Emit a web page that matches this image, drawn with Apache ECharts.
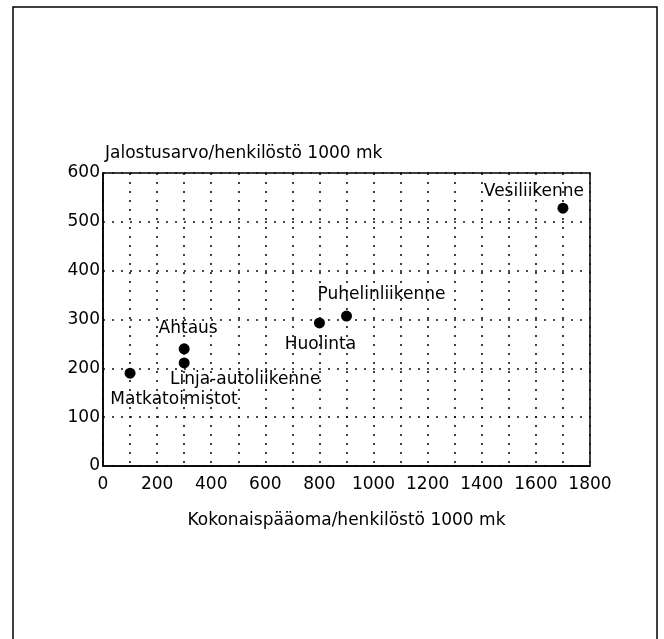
<!DOCTYPE html>
<html>
<head>
<meta charset="utf-8">
<script src="https://cdn.jsdelivr.net/npm/echarts@6/dist/echarts.min.js"></script>
<style>
html,body{margin:0;padding:0;background:#fff;}
#chart{width:664px;height:639px;}
</style>
</head>
<body>
<div id="chart"></div>
<script>
// data
var names=["Matkatoimistot","Ahtaus","Linja-autoliikenne","Huolinta","Puhelinliikenne","Vesiliikenne"];
var capital=[100,300,300,800,900,1700];
var valueAdded=[190,240,211,293,307,528];
// label offsets from the dot, in px
var labelOffsets=[[44,26],[4,-20],[61,17],[1,22],[35,-22],[-29,-17]];

var font="DejaVu Sans";
var chart=echarts.init(document.getElementById("chart"));

var points=[];
for(var i=0;i<names.length;i++){
	points.push({
		name:names[i],
		value:[capital[i],valueAdded[i]],
		label:{offset:labelOffsets[i]}
	});
}

var dotted={color:"#111",width:1.6,type:[2,7]};

var option={
	backgroundColor:"#fff",
	animation:false,
	textStyle:{fontFamily:font,color:"#000"},
	title:{
		text:"Jalostusarvo/henkilöstö 1000 mk",
		left:100,
		top:140,
		textStyle:{fontFamily:font,fontSize:17,fontWeight:"normal",color:"#000"}
	},
	grid:{
		left:103,
		top:173,
		right:74,
		bottom:173,
		show:true,
		borderColor:"#000",
		borderWidth:1.5
	},
	xAxis:{
		type:"value",
		min:0,
		max:1800,
		interval:100,
		name:"Kokonaispääoma/henkilöstö 1000 mk",
		nameLocation:"middle",
		nameGap:46,
		nameTextStyle:{fontFamily:font,fontSize:17,color:"#000"},
		axisLine:{show:true,lineStyle:{color:"#000",width:1.5}},
		axisTick:{show:false},
		axisLabel:{
			fontFamily:font,fontSize:17,color:"#000",margin:10,
			formatter:function(v){return v%200==0?String(v):"";}
		},
		splitLine:{show:true,lineStyle:dotted}
	},
	yAxis:{
		type:"value",
		min:0,
		max:600,
		interval:100,
		axisLine:{show:true,lineStyle:{color:"#000",width:1.5}},
		axisTick:{show:false},
		axisLabel:{fontFamily:font,fontSize:17,color:"#000",margin:3},
		splitLine:{show:true,lineStyle:dotted}
	},
	graphic:[{
		type:"rect",
		shape:{x:13,y:7,width:644,height:650},
		style:{fill:null,stroke:"#000",lineWidth:1.5},
		silent:true
	}],
	series:[{
		type:"scatter",
		symbol:"circle",
		symbolSize:11,
		itemStyle:{color:"#000",opacity:1},
		label:{
			show:true,
			position:"inside",
			formatter:"{b}",
			fontFamily:font,
			fontSize:17,
			color:"#000",
			opacity:1
		},
		data:points
	}]
};
chart.setOption(option);
</script>
</body>
</html>
